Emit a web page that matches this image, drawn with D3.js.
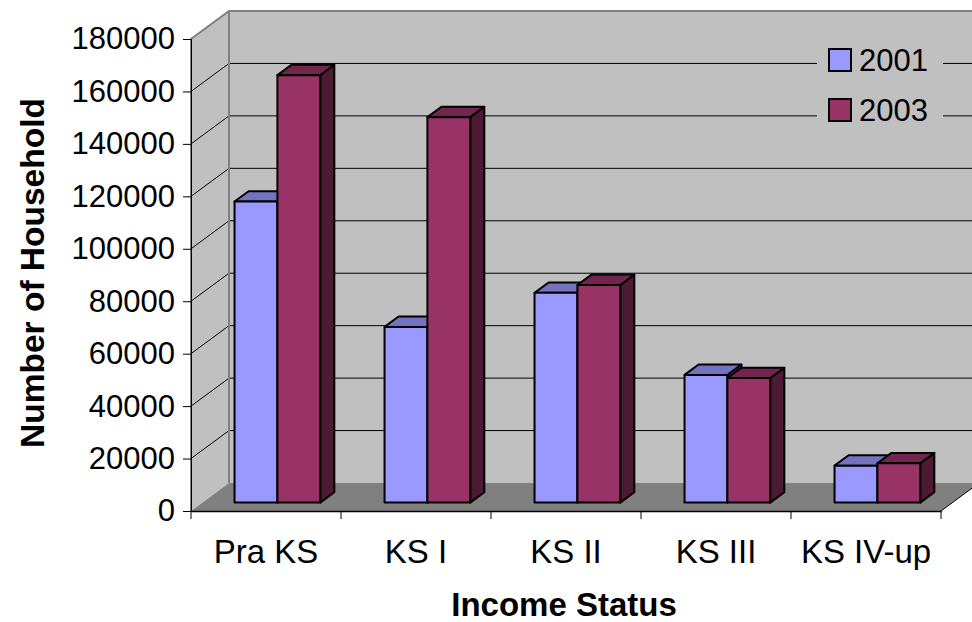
<!DOCTYPE html>
<html>
<head>
<meta charset="utf-8">
<script src="https://cdn.jsdelivr.net/npm/d3@7"></script>
<style>
  html, body { margin: 0; padding: 0; background: #ffffff; }
  svg { display: block; font-family: "Liberation Sans", Arial, sans-serif; }
</style>
</head>
<body>
<svg id="chart" width="972" height="622"></svg>
<script>
// Household counts by income status
const categories = ["Pra KS", "KS I", "KS II", "KS III", "KS IV-up"];
const seriesNames = ["2001", "2003"];
const values2001 = [114800, 67000, 80000, 48700, 14100];
const values2003 = [163000, 147000, 83000, 47500, 15000];
const yTicks = [0, 20000, 40000, 60000, 80000, 100000, 120000, 140000, 160000, 180000];

const frontColors = ["#9999FF", "#993366"];
const topColors = ["#7373BF", "#73264D"];
const sideColors = ["#4D4D80", "#4D1A33"];

(function draw() {
  const svg = d3.select("#chart");
  const W = 972;

  // Front plane of the plot and the oblique depth vector
  const pLeft = 191, pRight = 941, pBottom = 511, pTop = 39;
  const DX = 38, DY = -28;
  const barFront = 0.3, barBack = 0.67;

  const y = d3.scaleLinear().domain([0, 180000]).range([pBottom, pTop]);
  const x = d3.scaleBand().domain(categories).range([pLeft, pRight]).paddingInner(0).paddingOuter(0);
  const bw = x.bandwidth() / 3.5;   // gap width 150%

  const wallFill = "#C0C0C0", floorFill = "#808080", edge = "#808080";

  // Back wall
  svg.append("rect")
    .attr("x", pLeft + DX).attr("y", pTop + DY)
    .attr("width", pRight - pLeft + 10).attr("height", pBottom - pTop)
    .attr("fill", wallFill);

  // Side wall
  svg.append("polygon")
    .attr("points", [[pLeft, pTop], [pLeft + DX, pTop + DY], [pLeft + DX, pBottom + DY], [pLeft, pBottom]].join(" "))
    .attr("fill", wallFill);

  // Floor
  svg.append("polygon")
    .attr("points", [[pLeft, pBottom], [pLeft + DX, pBottom + DY], [pRight + DX, pBottom + DY], [pRight, pBottom]].join(" "))
    .attr("fill", floorFill);
  svg.append("line")
    .attr("x1", pRight).attr("y1", pBottom).attr("x2", pRight + DX).attr("y2", pBottom + DY)
    .attr("stroke", "#000").attr("stroke-width", 1);

  // Gridlines on the walls
  const grid = svg.append("g");
  yTicks.filter(v => v > 0 && v < 180000).forEach(v => {
    grid.append("line")
      .attr("x1", pLeft + DX).attr("x2", W + 10)
      .attr("y1", y(v) + DY).attr("y2", y(v) + DY)
      .attr("stroke", "#000").attr("stroke-width", 1);
    grid.append("line")
      .attr("x1", pLeft).attr("y1", y(v))
      .attr("x2", pLeft + DX).attr("y2", y(v) + DY)
      .attr("stroke", "#000").attr("stroke-width", 1);
  });

  // Wall outlines
  svg.append("polyline")
    .attr("points", [[pLeft, pBottom], [pLeft, pTop], [pLeft + DX, pTop + DY], [W + 10, pTop + DY]].join(" "))
    .attr("fill", "none").attr("stroke", edge).attr("stroke-width", 2);
  svg.append("line")
    .attr("x1", pLeft + DX).attr("y1", pTop + DY).attr("x2", pLeft + DX).attr("y2", pBottom + DY)
    .attr("stroke", edge).attr("stroke-width", 2);

  // Legend panel
  const legend = svg.append("g");
  legend.append("rect")
    .attr("x", 817).attr("y", 38).attr("width", 126).attr("height", 96)
    .attr("fill", wallFill);
  seriesNames.forEach((name, i) => {
    const ly = 49 + i * 50;
    legend.append("rect")
      .attr("x", 829).attr("y", ly).attr("width", 22).attr("height", 22)
      .attr("fill", frontColors[i]).attr("stroke", "#000").attr("stroke-width", 2);
    legend.append("text")
      .attr("x", 859).attr("y", ly + 22)
      .attr("font-size", 31).attr("fill", "#000")
      .text(name);
  });

  // Columns, drawn left to right so nearer faces cover farther ones
  const bars = svg.append("g");
  const seriesValues = [values2001, values2003];
  categories.forEach((cat, ci) => {
    seriesValues.forEach((vals, si) => {
      const x0 = x(cat) + 0.75 * bw + si * bw, x1 = x0 + bw;
      const y0 = y(0), y1 = y(vals[ci]);
      const fx = barFront * DX, fy = barFront * DY, bx = barBack * DX, by = barBack * DY;
      const g = bars.append("g")
        .attr("stroke", "#000").attr("stroke-width", 2).attr("stroke-linejoin", "round");
      g.append("polygon")
        .attr("points", [[x1 + fx, y1 + fy], [x1 + bx, y1 + by], [x1 + bx, y0 + by], [x1 + fx, y0 + fy]].join(" "))
        .attr("fill", sideColors[si]);
      g.append("polygon")
        .attr("points", [[x0 + fx, y1 + fy], [x1 + fx, y1 + fy], [x1 + bx, y1 + by], [x0 + bx, y1 + by]].join(" "))
        .attr("fill", topColors[si]);
      g.append("rect")
        .attr("x", x0 + fx).attr("y", y1 + fy)
        .attr("width", bw).attr("height", y0 - y1)
        .attr("fill", frontColors[si]);
    });
  });

  // Value axis
  const yAxis = d3.axisLeft(y).tickValues(yTicks).tickSize(8).tickPadding(8).tickFormat(d3.format("d"));
  const ya = svg.append("g").attr("transform", `translate(${pLeft},0)`).call(yAxis);
  ya.select(".domain").attr("stroke", "#000");
  ya.selectAll(".tick line").attr("stroke", "#000");
  ya.selectAll("text").attr("font-size", 31).attr("fill", "#000")
    .attr("font-family", "'Liberation Sans', Arial, sans-serif");

  // Category axis
  const xAxis = d3.axisBottom(x).tickSize(0).tickPadding(29);
  const xa = svg.append("g").attr("transform", `translate(0,${pBottom})`).call(xAxis);
  xa.select(".domain").attr("stroke", "#000").attr("stroke-width", 1.5);
  xa.selectAll("text").attr("font-size", 33).attr("fill", "#000")
    .attr("font-family", "'Liberation Sans', Arial, sans-serif");
  // Tick marks between categories
  xa.selectAll(".sep").data(d3.range(categories.length + 1)).enter().append("line")
    .attr("class", "sep")
    .attr("x1", i => pLeft + i * x.step()).attr("x2", i => pLeft + i * x.step())
    .attr("y1", 0).attr("y2", 8)
    .attr("stroke", "#000").attr("stroke-width", 1);

  // Axis titles
  svg.append("text")
    .attr("x", (pLeft + pRight) / 2 - 2).attr("y", 616)
    .attr("text-anchor", "middle").attr("font-size", 33).attr("font-weight", "bold")
    .text("Income Status");
  svg.append("text")
    .attr("transform", "translate(44,273) rotate(-90)")
    .attr("text-anchor", "middle").attr("font-size", 33.5).attr("font-weight", "bold")
    .text("Number of Household");
})();
</script>
</body>
</html>
